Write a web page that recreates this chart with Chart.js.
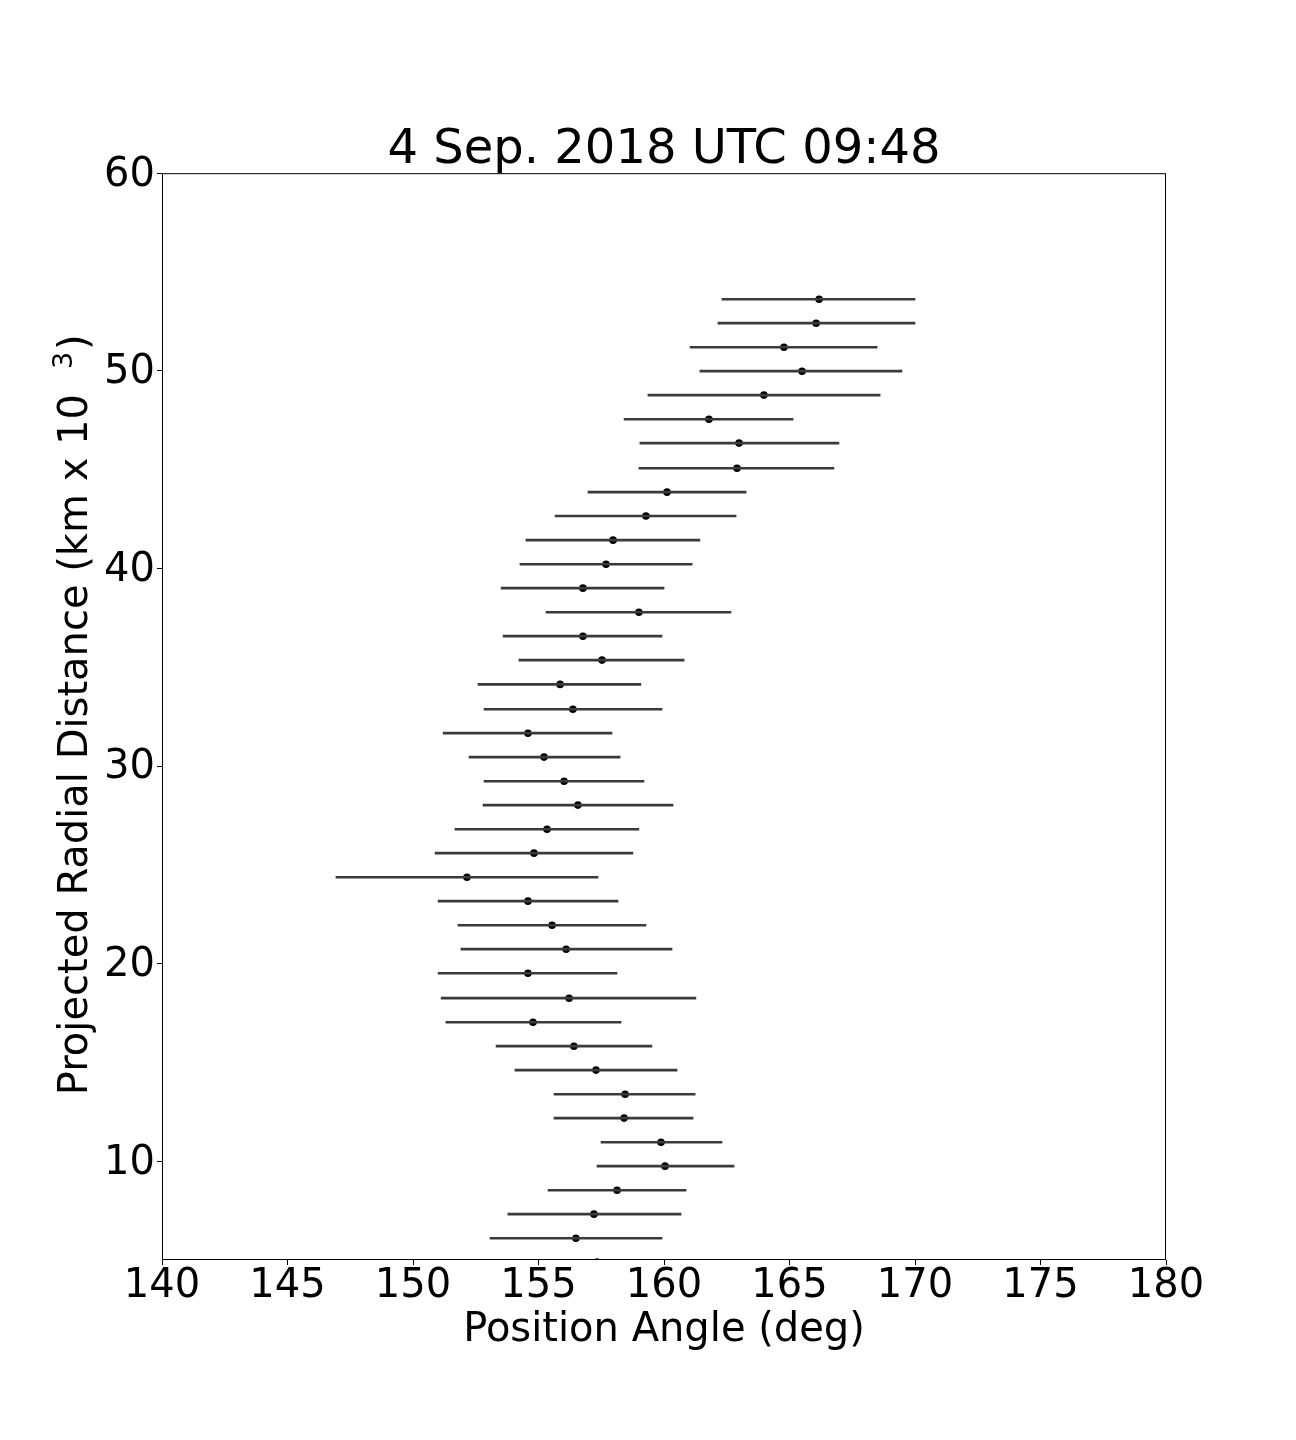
<!DOCTYPE html>
<html>
<head>
<meta charset="utf-8">
<title>4 Sep. 2018 UTC 09:48</title>
<script src="https://cdn.jsdelivr.net/npm/chart.js@4.4.1/dist/chart.umd.min.js"></script>
<style>
  body { margin: 0; background: #fff; }
  #chart { display: block; }
</style>
</head>
<body>
<canvas id="chart" width="1296" height="1440"></canvas>
<script>
// values
const radialDistance = [53.62, 52.41, 51.19, 49.98, 48.77, 47.55, 46.34, 45.07, 43.86, 42.65,
  41.43, 40.21, 39.00, 37.78, 36.57, 35.36, 34.13, 32.87, 31.66, 30.45,
  29.23, 28.02, 26.80, 25.59, 24.37, 23.16, 21.94, 20.73, 19.51, 18.25,
  17.03, 15.82, 14.61, 13.39, 12.18, 10.96, 9.75, 8.53, 7.32, 6.10, 4.89];
const positionAngle = [166.18, 166.06, 164.78, 165.50, 163.98, 161.79, 162.99, 162.91, 160.12, 159.28,
  157.97, 157.69, 156.77, 159.00, 156.77, 157.53, 155.86, 156.37, 154.58, 155.22,
  156.02, 156.57, 155.34, 154.82, 152.15, 154.58, 155.54, 156.10, 154.58, 156.22,
  154.78, 156.41, 157.29, 158.45, 158.41, 159.88, 160.04, 158.13, 157.21, 156.49, 157.33];
const angleLow = [162.31, 162.15, 161.04, 161.43, 159.36, 158.41, 159.04, 159.00, 156.97, 155.66,
  154.50, 154.26, 153.51, 155.30, 153.59, 154.22, 152.59, 152.83, 151.20, 152.23,
  152.83, 152.79, 151.67, 150.88, 146.93, 151.00, 151.79, 151.91, 151.00, 151.12,
  151.31, 153.31, 154.06, 155.62, 155.62, 157.49, 157.33, 155.38, 153.78, 153.07, 154.00];
const angleHigh = [170.00, 170.00, 168.49, 169.48, 168.61, 165.14, 166.97, 166.77, 163.27, 162.87,
  161.43, 161.12, 160.00, 162.67, 159.92, 160.80, 159.08, 159.92, 157.93, 158.25,
  159.20, 160.36, 159.00, 158.76, 157.37, 158.17, 159.28, 160.32, 158.13, 161.27,
  158.29, 159.52, 160.52, 161.24, 161.16, 162.31, 162.79, 160.88, 160.68, 159.92, 160.60];

const xTicks = [140, 145, 150, 155, 160, 165, 170, 175, 180];
const yTicks = [10, 20, 30, 40, 50, 60];

const FONT = '"DejaVu Sans", "Liberation Sans", sans-serif';

const points = positionAngle.map((a, i) => ({ x: a, y: radialDistance[i] }));
const errorBars = positionAngle.map((a, i) => ({ x: [angleLow[i], angleHigh[i]], y: radialDistance[i] }));

// black frame around the plot area (all four spines)
const framePlugin = {
  id: 'frame',
  afterDraw(chart) {
    const { ctx, chartArea: a } = chart;
    ctx.save();
    ctx.strokeStyle = '#000';
    ctx.lineWidth = 1;
    ctx.strokeRect(a.left + 0.5, a.top + 0.5, a.right - a.left - 1, a.bottom - a.top - 1);
    ctx.restore();
  }
};

// y axis title, with the raised "3" like the original
const yTitlePlugin = {
  id: 'yTitle',
  afterDraw(chart) {
    const ctx = chart.ctx;
    ctx.save();
    ctx.translate(87, 394);
    ctx.rotate(-Math.PI / 2);
    ctx.fillStyle = '#000';
    ctx.textBaseline = 'alphabetic';
    ctx.font = '40px ' + FONT;
    ctx.textAlign = 'right';
    ctx.fillText('Projected Radial Distance (km x 10', 0, 0);
    ctx.textAlign = 'left';
    ctx.font = '27px ' + FONT;
    ctx.fillText('3', 25, -15);
    ctx.font = '40px ' + FONT;
    ctx.fillText(')', 44, 0);
    ctx.restore();
  }
};

new Chart(document.getElementById('chart'), {
  type: 'scatter',
  data: {
    datasets: [
      {
        type: 'bar',
        indexAxis: 'y',
        xAxisID: 'x',
        yAxisID: 'y',
        data: errorBars,
        barThickness: 2,
        backgroundColor: '#3a3a3a',
        borderWidth: 0,
        clip: 0
      },
      {
        type: 'scatter',
        xAxisID: 'x',
        yAxisID: 'y',
        data: points,
        pointRadius: 3.8,
        pointBackgroundColor: '#000',
        pointBorderWidth: 0,
        clip: 0
      }
    ]
  },
  options: {
    responsive: false,
    devicePixelRatio: 1,
    animation: false,
    layout: { padding: { left: 0, right: 130, top: 0, bottom: 0 } },
    plugins: {
      legend: { display: false },
      tooltip: { enabled: false },
      title: {
        display: true,
        fullSize: false,
        text: '4 Sep. 2018 UTC 09:48',
        color: '#000',
        font: { family: FONT, size: 48, weight: 'normal', lineHeight: 0.9 },
        padding: { top: 129, bottom: 1 }
      }
    },
    scales: {
      x: {
        type: 'linear',
        position: 'bottom',
        min: 140,
        max: 180,
        offset: false,
        afterBuildTicks: s => { s.ticks = xTicks.map(v => ({ value: v })); },
        afterFit: s => { s.height = 180; },
        grid: { display: true, offset: false, drawOnChartArea: false, drawTicks: true, tickLength: 5, tickColor: '#000', tickWidth: 1 },
        border: { display: false },
        ticks: { color: '#000', font: { family: FONT, size: 40, lineHeight: 1 }, padding: 2, maxRotation: 0 },
        title: {
          display: true,
          text: 'Position Angle (deg)',
          color: '#000',
          font: { family: FONT, size: 40, lineHeight: 1.2 },
          padding: { top: 0, bottom: 85 }
        }
      },
      y: {
        type: 'linear',
        position: 'left',
        min: 5,
        max: 60,
        offset: false,
        afterBuildTicks: s => { s.ticks = yTicks.map(v => ({ value: v })); },
        afterFit: s => { s.width = 162; },
        grid: { display: true, offset: false, drawOnChartArea: false, drawTicks: true, tickLength: 5, tickColor: '#000', tickWidth: 1 },
        border: { display: false },
        ticks: { color: '#000', font: { family: FONT, size: 40 }, padding: 2, labelOffset: 2 },
        title: { display: false }
      }
    }
  },
  plugins: [framePlugin, yTitlePlugin]
});
</script>
</body>
</html>
